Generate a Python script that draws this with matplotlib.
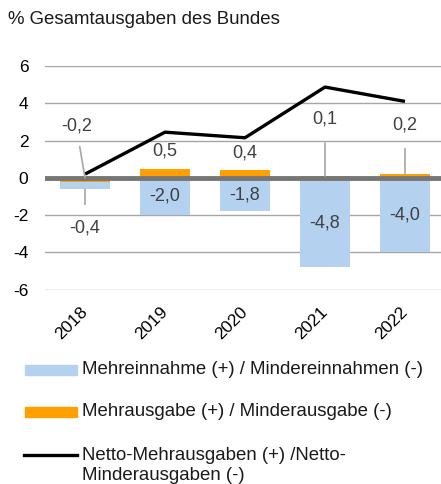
import matplotlib
matplotlib.use("Agg")
import matplotlib.pyplot as plt
import numpy as np
from matplotlib.patches import Rectangle
from matplotlib.lines import Line2D

plt.rcParams['font.family'] = ['Liberation Sans', 'DejaVu Sans']

years = ["2018", "2019", "2020", "2021", "2022"]
revenue = [-0.4, -2.0, -1.8, -4.8, -4.0]       # Mehreinnahme / Mindereinnahmen
spending = [-0.2, 0.5, 0.4, 0.1, 0.2]          # Mehrausgabe / Minderausgabe
net = [0.2, 2.45, 2.15, 4.87, 4.1]             # Netto-Mehrausgaben
yticks = [-6, -4, -2, 0, 2, 4, 6]
title = "% Gesamtausgaben des Bundes"
legend_labels = ["Mehreinnahme (+) / Mindereinnahmen (-)",
                 "Mehrausgabe (+) / Minderausgabe (-)",
                 "Netto-Mehrausgaben (+) /Netto-\nMinderausgaben (-)"]

BLUE = "#b4d2f0"
ORANGE = "#ffa000"
LBL = "#404040"
LEAD = "#a6a6a6"

W, H = 441, 484
fig = plt.figure(figsize=(W / 100, H / 100), dpi=100)
ax = fig.add_axes([45 / W, 1 - 289.7 / H, 400 / W, (289.7 - 66) / H])

x = np.arange(len(years))
bw = 0.62
sp = np.array(spending)
rv = np.array(revenue)
orange_bottom = np.zeros(len(x))
blue_bottom = np.where(sp < 0, sp, 0.0) * (rv < 0)
ax.bar(x, sp, bw, bottom=orange_bottom, color=ORANGE, zorder=2)
ax.bar(x, rv, bw, bottom=blue_bottom, color=BLUE, zorder=2)
ax.plot(x, net, color="black", lw=2.4, zorder=5, solid_capstyle="butt")
ax.axhline(0, color="#767676", lw=3.5, zorder=3)

ax.set_xlim(-0.5, len(x) - 0.5)
ax.set_ylim(-6, 6)
ax.set_yticks(yticks)
ax.set_yticklabels([str(t) for t in yticks])
ax.grid(axis="y", color="#a6a6a6", lw=1.0, zorder=0)
ax.set_axisbelow(True)
for s in ax.spines.values():
    s.set_visible(False)
ax.tick_params(axis="y", length=0, pad=12, labelsize=12.5, labelcolor="black")
ax.tick_params(axis="x", length=0, pad=14, labelsize=12.5)
ax.set_xticks(x)
ax.set_xticklabels(years, rotation=45, ha="right", va="center",
                   rotation_mode="anchor")

# data labels
fs = 13
for i in range(len(x)):
    r, s = revenue[i], spending[i]
    lr = f"{r:.1f}".replace(".", ",")
    ls = f"{s:.1f}".replace(".", ",")
    if i == 0:
        ax.annotate(ls, xy=(x[i], 0.0), xytext=(x[i] - 0.11, 2.8),
                    ha="center", va="center", fontsize=fs, color=LBL,
                    arrowprops=dict(arrowstyle="-", color=LEAD, lw=1.2,
                                    shrinkA=7, shrinkB=0), zorder=6)
        bot = s + r
        ax.annotate(lr, xy=(x[i], bot), xytext=(x[i], -2.7),
                    ha="center", va="center", fontsize=fs, color=LBL,
                    arrowprops=dict(arrowstyle="-", color=LEAD, lw=1.2,
                                    shrinkA=9, shrinkB=0), zorder=6)
    elif s < 0.3:
        ax.annotate(ls, xy=(x[i], s), xytext=(x[i], 3.15 if i == 3 else 2.85),
                    ha="center", va="center", fontsize=fs, color=LBL,
                    arrowprops=dict(arrowstyle="-", color=LEAD, lw=1.2,
                                    shrinkA=9, shrinkB=0), zorder=6)
        ax.text(x[i], r / 2, lr, ha="center", va="center", fontsize=fs,
                color=LBL, zorder=6)
    else:
        ax.text(x[i], s + 0.95, ls, ha="center", va="center", fontsize=fs,
                color=LBL, zorder=6)
        ax.text(x[i], r / 2, lr, ha="center", va="center", fontsize=fs,
                color=LBL, zorder=6)

# title
fig.text(8 / W, 1 - 19 / H, title, ha="left", va="center", fontsize=13.4,
         color="#1a1a1a")

# legend (manual)
rows = [370, 411.5, 455]
fig.add_artist(Rectangle((25 / W, 1 - (rows[0] + 5) / H), 52 / W, 10 / H,
                         color=BLUE, transform=fig.transFigure))
fig.add_artist(Rectangle((25 / W, 1 - (rows[1] + 5) / H), 52 / W, 10 / H,
                         color=ORANGE, transform=fig.transFigure))
fig.add_artist(Line2D([24 / W, 77 / W], [1 - rows[2] / H, 1 - rows[2] / H],
                      color="black", lw=2.4, transform=fig.transFigure))
lfs = 13.4
fig.text(82 / W, 1 - rows[0] / H, legend_labels[0], ha="left", va="center",
         fontsize=lfs, color="#1a1a1a")
fig.text(82 / W, 1 - rows[1] / H, legend_labels[1], ha="left", va="center",
         fontsize=lfs, color="#1a1a1a")
l1, l2 = legend_labels[2].split("\n")
fig.text(82 / W, 1 - rows[2] / H, l1, ha="left", va="center",
         fontsize=lfs, color="#1a1a1a")
fig.text(82 / W, 1 - (rows[2] + 20) / H, l2, ha="left", va="center",
         fontsize=lfs, color="#1a1a1a")

fig.savefig("out.png", dpi=100)
